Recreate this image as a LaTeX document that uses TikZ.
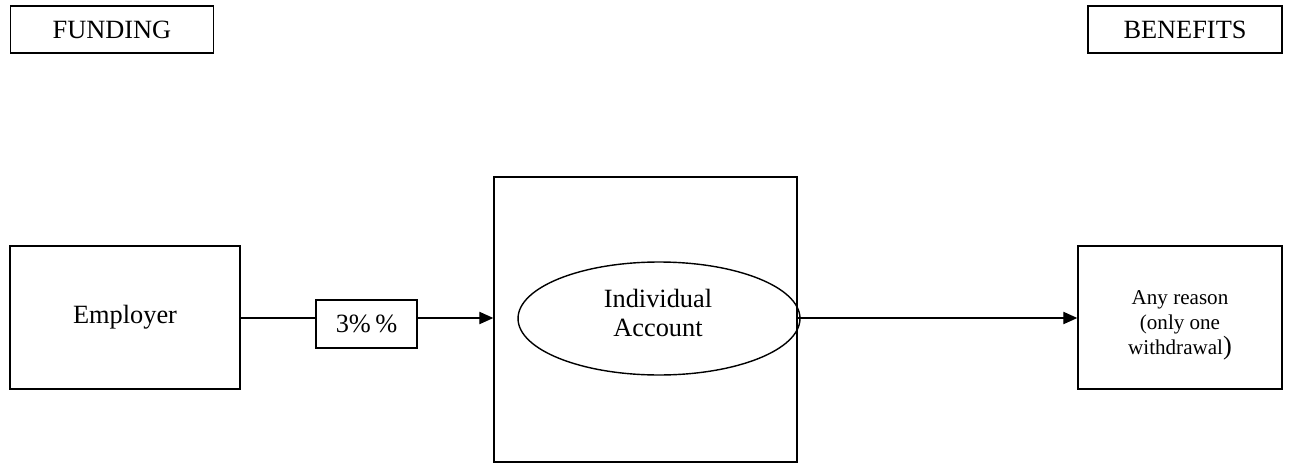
\documentclass[tikz,border=0pt]{standalone}
\usepackage{fontspec}
\setmainfont{Liberation Serif}
\usetikzlibrary{arrows.meta,positioning,shapes.geometric}

\tikzset{
  plainbox/.style={draw, line width=0.8pt, rectangle, inner sep=0pt},
  flow/.style={line width=0.8pt, -{Triangle[length=8pt,width=7pt]}}
}

\begin{document}
\begin{tikzpicture}[x=0.02cm,y=-0.02cm]
\useasboundingbox (0,0) rectangle (1308,463);
\node[plainbox, minimum width=4.06cm, minimum height=0.94cm, font=\fontsize{15}{18}\selectfont] (fund) at (112,29.5) {FUNDING};
\node[plainbox, minimum width=3.88cm, minimum height=0.94cm, font=\fontsize{15}{18}\selectfont] (ben) at (1185,29.5) {BENEFITS};
\node[plainbox, minimum width=4.6cm, minimum height=2.86cm, font=\fontsize{15}{18}\selectfont] (emp) at (125,317.5) {Employer};
\node[plainbox, minimum width=2.02cm, minimum height=0.96cm, font=\fontsize{15}{18}\selectfont] (pct) at (366.5,324) {3\%\,\%};
\node[plainbox, minimum width=6.06cm, minimum height=5.7cm] (acct) at (645.5,319.5) {};
\node[draw, line width=0.8pt, ellipse, minimum width=5.64cm, minimum height=2.26cm, inner sep=0pt] (indiv) at (659,318.5) {};
\node[align=center, inner sep=0pt, font=\fontsize{15}{17}\selectfont] (indivtxt) at (658,313) {Individual\\Account};
\node[plainbox, minimum width=4.08cm, minimum height=2.86cm] (any) at (1180,317.5) {};
\node[align=center, inner sep=0pt, font=\fontsize{12}{14.2}\selectfont] (anytxt) at (1180,325) {Any reason\\(only one\\withdrawal{\fontsize{15}{14.2}\selectfont)}};
\draw[line width=0.8pt] (emp.east |- 0,318) -- (pct.west |- 0,318);
\draw[flow] (pct.east |- 0,318) -- (acct.west |- 0,318);
\draw[flow] (acct.east |- 0,318) -- (any.west |- 0,318);
\end{tikzpicture}
\end{document}
